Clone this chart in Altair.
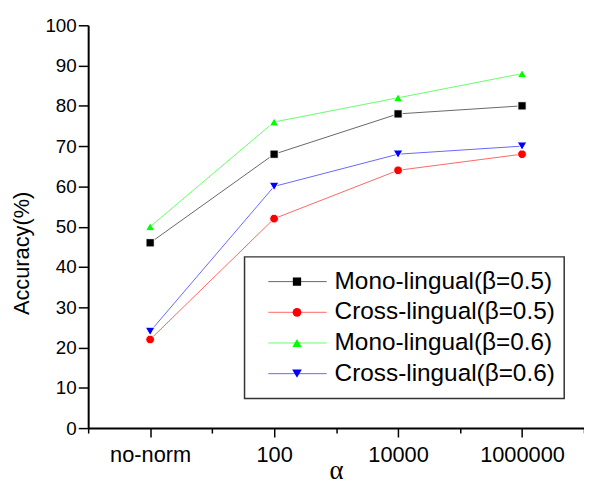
import json
import altair as alt
import pandas as pd

# ---- data ----
categories = ["no-norm", "100", "10000", "1000000"]
series = [
    "Mono-lingual(\u03b2=0.5)",
    "Cross-lingual(\u03b2=0.5)",
    "Mono-lingual(\u03b2=0.6)",
    "Cross-lingual(\u03b2=0.6)",
]
mono_05 = [46, 68, 78, 80]
cross_05 = [22, 52, 64, 68]
mono_06 = [50, 76, 82, 88]
cross_06 = [24, 60, 68, 70]

colors = ["#000000", "#ff0000", "#00ff00", "#0000ff"]
shapes = ["square", "circle", "triangle-up", "triangle-down"]
sizes = [70, 95, 145, 145]

values = [mono_05, cross_05, mono_06, cross_06]
rows = []
for s, vals in zip(series, values):
    for i, (c, v) in enumerate(zip(categories, vals)):
        rows.append({"series": s, "alpha": c, "pos": i + 0.5, "acc": v})
df = pd.DataFrame(rows)
leg_df = pd.DataFrame({"series": series, "order": list(range(len(series)))})
box_df = pd.DataFrame({"k": [0]})

FONT = "Liberation Sans"

color_enc = alt.Color("series:N", scale=alt.Scale(domain=series, range=colors), legend=None)
shape_enc = alt.Shape("series:N", scale=alt.Scale(domain=series, range=shapes), legend=None)
size_enc = alt.Size("series:N", scale=alt.Scale(domain=series, range=sizes), legend=None)

cat_js = json.dumps(categories)

x_axis = alt.Axis(
    values=[i * 0.5 for i in range(9)],
    labelExpr=f"datum.value % 1 !== 0 ? {cat_js}[floor(datum.value)] : ''",
    tickSize={"condition": {"test": "datum.value % 1 !== 0", "value": 9}, "value": 5},
    grid=False,
    title="\u03b1",
    titleFont="Liberation Serif",
    titleFontSize=27,
    titleFontWeight="normal",
    titleY=51,
    titleBaseline="alphabetic",
    labelFontSize=22,
    labelPadding=8,
    labelOverlap=False,
    labelFlush=False,
    labelColor="#000000",
    domainWidth=2,
    domainColor="#000000",
    tickColor="#000000",
    tickWidth=1.5,
)
y_axis = alt.Axis(
    values=list(range(0, 101, 5)),
    labelExpr="datum.value % 10 === 0 ? datum.label : ''",
    tickSize={"condition": {"test": "datum.value % 10 === 0", "value": 10}, "value": 5},
    grid=False,
    title="Accuracy(%)",
    titleFontSize=22,
    titleFontWeight="normal",
    titleAngle=270,
    titleX=-60,
    titleY=230,
    titleAlign="center",
    titleBaseline="alphabetic",
    labelFontSize=19,
    labelPadding=2,
    labelOverlap=False,
    labelFlush=False,
    labelColor="#000000",
    domainWidth=2,
    domainColor="#000000",
    tickColor="#000000",
    tickWidth=1.5,
)

xs = alt.Scale(domain=[0, 4], nice=False, zero=False)
ys = alt.Scale(domain=[0, 100], nice=False)

lines = alt.Chart(df).mark_line(strokeWidth=1, opacity=0.6).encode(
    x=alt.X("pos:Q", scale=xs, axis=x_axis),
    y=alt.Y("acc:Q", scale=ys, axis=y_axis),
    color=color_enc,
    detail="series:N",
)
points = alt.Chart(df).mark_point(filled=True, opacity=1, stroke="white", strokeWidth=1).encode(
    x=alt.X("pos:Q", scale=xs),
    y=alt.Y("acc:Q", scale=ys),
    color=color_enc,
    shape=shape_enc,
    size=size_enc,
)
main = alt.layer(lines, points)

box = alt.Chart(box_df).mark_rect(fill="white", stroke="#333333", strokeWidth=1.5).encode(
    x=alt.value(158), x2=alt.value(481), y=alt.value(234), y2=alt.value(377)
)
ly = alt.Scale(domain=[0, 3], range=[259, 352])
leg_rules = alt.Chart(leg_df).mark_rule(strokeWidth=1, opacity=0.6).encode(
    x=alt.value(182), x2=alt.value(241),
    y=alt.Y("order:Q", scale=ly, axis=None),
    color=color_enc,
)
leg_points = alt.Chart(leg_df).mark_point(filled=True, opacity=1).encode(
    x=alt.value(211),
    y=alt.Y("order:Q", scale=ly, axis=None),
    color=color_enc,
    shape=shape_enc,
    size=size_enc,
)
leg_text = alt.Chart(leg_df).mark_text(
    align="left", baseline="middle", fontSize=24.6, font=FONT, color="#000000"
).encode(
    x=alt.value(249),
    y=alt.Y("order:Q", scale=ly, axis=None),
    text="series:N",
)
legend = alt.layer(box, leg_rules, leg_points, leg_text)

chart = (
    alt.layer(main, legend)
    .resolve_scale(y="independent")
    .properties(
        width=501,
        height=407,
        autosize=alt.AutoSizeParams(type="none"),
        padding={"left": 81, "top": 15, "right": 0, "bottom": 52},
    )
    .configure(font=FONT)
    .configure_view(stroke=None)
    .configure_axis(titleColor="#000000")
)

chart.save("out.html", embed_options={"renderer": "svg", "actions": False})
